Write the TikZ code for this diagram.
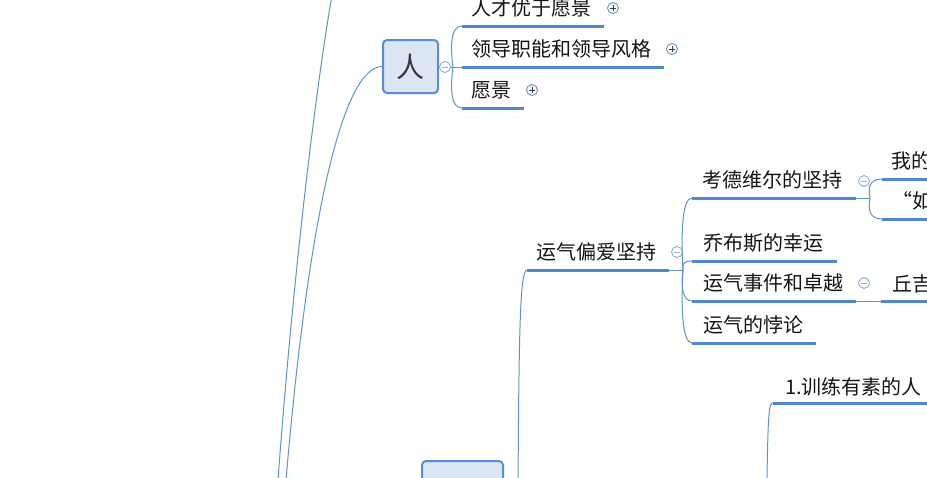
\documentclass[tikz,border=0pt]{standalone}
\usepackage{fontspec}
\setmainfont{Noto Sans CJK SC}
\definecolor{linkblue}{RGB}{95,145,215}
\definecolor{barblue}{RGB}{82,136,210}
\definecolor{boxfill}{RGB}{220,230,243}
\definecolor{boxline}{RGB}{88,140,212}
\definecolor{foldblue}{RGB}{140,172,220}
\definecolor{plusring}{RGB}{110,145,200}
\definecolor{plusmark}{RGB}{45,60,90}
\definecolor{ink}{RGB}{20,20,20}
\begin{document}
\begin{tikzpicture}[x=1pt,y=-1pt,
  link/.style={draw=linkblue,line width=1pt},
  bar/.style={draw=barblue,line width=3pt},
  topic/.style={anchor=west,inner sep=0pt,text=ink,font=\fontsize{20}{24}\selectfont},
  mainbox/.style={draw=boxline,fill=boxfill,line width=2pt,rounded corners=4pt,
    minimum height=53pt,inner sep=0pt,text=ink!85,font=\fontsize{28}{30}\selectfont},
  fold/.style={circle,draw=foldblue,fill=white,line width=0.9pt,minimum size=11pt,inner sep=0pt,
    path picture={\draw[foldblue,line width=0.9pt]
      ([xshift=2.8pt]path picture bounding box.west) -- ([xshift=-2.8pt]path picture bounding box.east);}},
  unfold/.style={circle,draw=plusring,fill=white,line width=0.9pt,minimum size=11pt,inner sep=0pt,
    path picture={\draw[plusmark,line width=0.9pt]
      ([xshift=2.8pt]path picture bounding box.west) -- ([xshift=-2.8pt]path picture bounding box.east)
      ([yshift=-2.8pt]path picture bounding box.north) -- ([yshift=2.8pt]path picture bounding box.south);}}]
\useasboundingbox (0,0) rectangle (927,477);
\clip (0,0) rectangle (927,477);

% long links coming from the root below
\coordinate (top-in) at (333,-10);
\coordinate (root-a) at (278,480);
\coordinate (root-b) at (286,480);
\draw[link] (root-a) .. controls (295,250) and (320,60) .. (top-in);

% ---------- 人 ----------
\node[mainbox,minimum width=55pt] (ren) at (410.5,66.5) {人};
\draw[link] (root-b) .. controls (310,200) and (345,67) .. (ren.west);
\node[fold] (f1) at (445,67) {};
\coordinate (b1) at (453,67);
\draw[link] (ren.east) -- (f1.west);
\draw[link] (f1.east) -- (b1);

\coordinate (rc-l) at (462,26);  \coordinate (rc-r) at (604,26);
\coordinate (ld-l) at (462,67);  \coordinate (ld-r) at (664,67);
\coordinate (yj-l) at (462,108); \coordinate (yj-r) at (524,108);
\draw[link] (b1) .. controls (450,45) and (451,26) .. (rc-l);
\draw[link] (b1) -- (ld-l);
\draw[link] (b1) .. controls (450,89) and (451,108) .. (yj-l);
\draw[bar] (rc-l) -- (rc-r);
\draw[bar] (ld-l) -- (ld-r);
\draw[bar] (yj-l) -- (yj-r);
\node[topic] (rc) at (471,8) {人才优于愿景};
\node[topic] (ld) at (471,49) {领导职能和领导风格};
\node[topic] (yj) at (471,90) {愿景};
\node[unfold] (p1) at (613,8) {};
\node[unfold] (p2) at (672,49) {};
\node[unfold] (p3) at (532,90) {};

% ---------- lower box ----------
\node[mainbox,minimum width=81pt] (low) at (462.5,487.5) {};
\coordinate (b5) at (518,488);

% ---------- 运气偏爱坚持 ----------
\coordinate (yq-l) at (527,270); \coordinate (yq-r) at (669,270);
\draw[link] (b5) .. controls (519,330) and (520,270) .. (yq-l);
\draw[bar] (yq-l) -- (yq-r);
\node[topic] (yq) at (536,252) {运气偏爱坚持};
\node[fold] (f2) at (677,252) {};
\coordinate (b2) at (683,270);
\draw[link] (yq-r) -- (b2);

\coordinate (kd-l) at (692,198); \coordinate (kd-r) at (856,198);
\coordinate (qb-l) at (692,261); \coordinate (qb-r) at (837,261);
\coordinate (sj-l) at (692,301); \coordinate (sj-r) at (856,301);
\coordinate (bl-l) at (692,343); \coordinate (bl-r) at (816,343);
\draw[link] (b2) .. controls (681,234) and (682,198) .. (kd-l);
\draw[link] (b2) .. controls (682,265) and (683,261) .. (qb-l);
\draw[link] (b2) .. controls (681,285) and (682,301) .. (sj-l);
\draw[link] (b2) .. controls (681,306) and (682,343) .. (bl-l);
\draw[bar] (kd-l) -- (kd-r);
\draw[bar] (qb-l) -- (qb-r);
\draw[bar] (sj-l) -- (sj-r);
\draw[bar] (bl-l) -- (bl-r);
\node[topic] (kd) at (702,180) {考德维尔的坚持};
\node[topic] (qb) at (703,243) {乔布斯的幸运};
\node[topic] (sj) at (703,283) {运气事件和卓越};
\node[topic] (bl) at (703,325) {运气的悖论};

% 考德维尔的坚持 children
\node[fold] (f3) at (864,181) {};
\coordinate (b3) at (870,198);
\draw[link] (kd-r) -- (b3);
\coordinate (wd-l) at (882,179); \coordinate (wd-r) at (940,179);
\coordinate (ru-l) at (882,219); \coordinate (ru-r) at (940,219);
\draw[link] (b3) .. controls (868,188) and (869,179) .. (wd-l);
\draw[link] (b3) .. controls (868,209) and (869,219) .. (ru-l);
\draw[bar] (wd-l) -- (wd-r);
\draw[bar] (ru-l) -- (ru-r);
\node[topic] (wd) at (891,161) {我的};
\node[topic] (ru) at (892,201) {“如};

% 运气事件和卓越 child
\node[fold] (f4) at (864,283) {};
\coordinate (qj-l) at (881,301); \coordinate (qj-r) at (940,301);
\draw[link] (sj-r) -- (qj-l);
\draw[bar] (qj-l) -- (qj-r);
\node[topic] (qj) at (892,284) {丘吉};

% ---------- 1.训练有素的人 ----------
\coordinate (b6) at (767,480);
\coordinate (tr-l) at (773,403); \coordinate (tr-r) at (940,403);
\draw[link] (b6) .. controls (768,412) and (769,403) .. (tr-l);
\draw[bar] (tr-l) -- (tr-r);
\node[topic] (tr) at (785,387) {1.训练有素的人};
\end{tikzpicture}
\end{document}
